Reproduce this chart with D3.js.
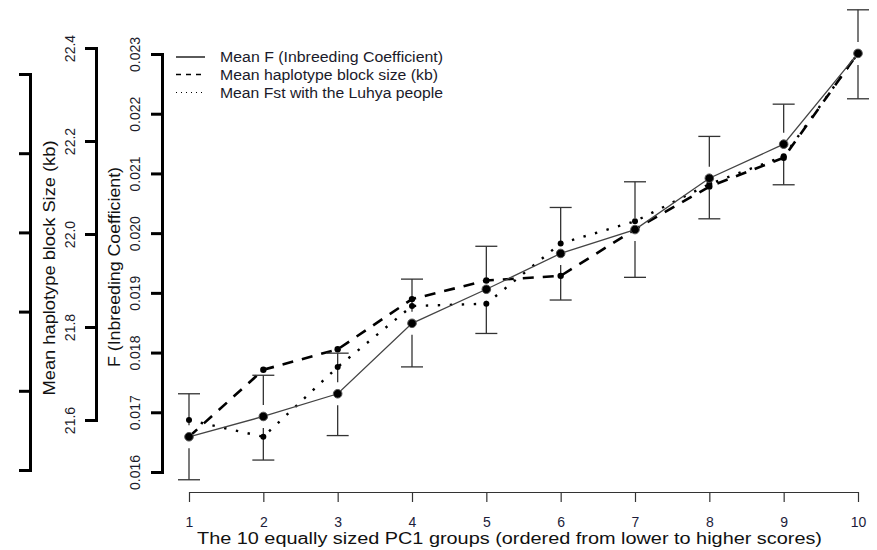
<!DOCTYPE html>
<html>
<head>
<meta charset="utf-8">
<script src="https://cdn.jsdelivr.net/npm/d3@7"></script>
<style>
body { margin: 0; background: #fff; }
svg { display: block; font-family: "Liberation Sans", Arial, sans-serif; }
</style>
</head>
<body>
<script>
var width = 877,
    height = 550;

// values
var groups = [1, 2, 3, 4, 5, 6, 7, 8, 9, 10];
var meanF = [0.01659, 0.01693, 0.01731, 0.01849, 0.01906, 0.01966, 0.02006, 0.02092, 0.02149, 0.02301];
var fUpper = [0.01731, 0.01762, 0.01799, 0.01923, 0.01978, 0.02043, 0.02086, 0.02162, 0.02216, 0.02374];
var fLower = [0.01587, 0.01620, 0.01661, 0.01776, 0.01832, 0.01888, 0.01926, 0.02024, 0.02081, 0.02225];
var hapSize = [21.564, 21.708, 21.752, 21.860, 21.900, 21.910, 22.010, 22.102, 22.164, 22.389];
var fst = [0.01063, 0.01042, 0.01130, 0.01207, 0.01210, 0.01286, 0.01314, 0.01361, 0.01396, 0.01526];

var fTicks = [0.016, 0.017, 0.018, 0.019, 0.020, 0.021, 0.022, 0.023];
var hapTicks = [21.6, 21.8, 22.0, 22.2, 22.4];
var fstTicks = [0.010, 0.011, 0.012, 0.013, 0.014, 0.015];

var legendLabels = ["Mean F (Inbreeding Coefficient)",
                    "Mean haplotype block size (kb)",
                    "Mean Fst with the Luhya people"];

var x = d3.scaleLinear().domain([1, 10]).range([189, 858]);
var yF = d3.scaleLinear().domain([0.016, 0.023]).range([472, 54]);
var yHap = d3.scaleLinear().domain([21.6, 22.4]).range([420, 48]);
var yFst = d3.scaleLinear().domain([0.010, 0.015]).range([470, 74]);

var svg = d3.select("body").append("svg")
    .attr("width", width)
    .attr("height", height);

svg.append("rect")
    .attr("width", width)
    .attr("height", height)
    .attr("fill", "#fff");

// left axes (thick, R style)
function leftAxis(scale, ticks, xpos, fmt, labelOffset) {
    var g = svg.append("g")
        .attr("transform", "translate(" + xpos + ",0)")
        .call(d3.axisLeft(scale).tickValues(ticks).tickSize(11).tickSizeOuter(0).tickFormat(fmt));
    g.select(".domain").attr("stroke", "#000").attr("stroke-width", 3).attr("stroke-linecap", "square");
    g.selectAll(".tick line").attr("stroke", "#000").attr("stroke-width", 3);
    g.selectAll(".tick text")
        .attr("x", null)
        .attr("dy", null)
        .attr("fill", "#1c1c2a")
        .style("font-size", "14px")
        .attr("text-anchor", "middle")
        .attr("transform", "translate(" + (-labelOffset) + ",0) rotate(-90)");
    return g;
}

leftAxis(yFst, fstTicks, 30, function() { return ""; }, 0);
leftAxis(yHap, hapTicks, 96, d3.format(".1f"), 21);
leftAxis(yF, fTicks, 162, d3.format(".3f"), 22);

// axis titles
svg.append("text")
    .attr("transform", "translate(55,268) rotate(-90)")
    .attr("text-anchor", "middle")
    .attr("textLength", 255)
    .attr("lengthAdjust", "spacingAndGlyphs")
    .style("font-size", "17px")
    .attr("fill", "#111")
    .text("Mean haplotype block Size (kb)");

svg.append("text")
    .attr("transform", "translate(120,267) rotate(-90)")
    .attr("text-anchor", "middle")
    .attr("textLength", 200)
    .attr("lengthAdjust", "spacingAndGlyphs")
    .style("font-size", "17px")
    .attr("fill", "#111")
    .text("F (Inbreeding Coefficient)");

// x axis
var xg = svg.append("g")
    .attr("transform", "translate(0,492)")
    .call(d3.axisBottom(x).tickValues(groups).tickSize(10).tickSizeOuter(0).tickFormat(d3.format("d")));
xg.select(".domain").attr("stroke", "#333").attr("stroke-width", 1.2);
xg.selectAll(".tick line").attr("stroke", "#333").attr("stroke-width", 1.2);
xg.selectAll(".tick text")
    .attr("y", 35)
    .attr("dy", null)
    .attr("fill", "#1c1c3a")
    .style("font-size", "14px");

svg.append("text")
    .attr("x", 509.5)
    .attr("y", 544)
    .attr("text-anchor", "middle")
    .attr("textLength", 625)
    .attr("lengthAdjust", "spacingAndGlyphs")
    .style("font-size", "16px")
    .attr("fill", "#111")
    .text("The 10 equally sized PC1 groups (ordered from lower to higher scores)");

// lines
var lineFst = d3.line().x(function(d, i) { return x(groups[i]); }).y(function(d) { return yFst(d); });
var lineHap = d3.line().x(function(d, i) { return x(groups[i]); }).y(function(d) { return yHap(d); });
var lineF = d3.line().x(function(d, i) { return x(groups[i]); }).y(function(d) { return yF(d); });

svg.append("path")
    .datum(fst)
    .attr("d", lineFst)
    .attr("fill", "none")
    .attr("stroke", "#000")
    .attr("stroke-width", 2.4)
    .attr("stroke-dasharray", "2.4,9.6");

svg.append("path")
    .datum(hapSize)
    .attr("d", lineHap)
    .attr("fill", "none")
    .attr("stroke", "#000")
    .attr("stroke-width", 2.6)
    .attr("stroke-dasharray", "11,9");

svg.append("path")
    .datum(meanF)
    .attr("d", lineF)
    .attr("fill", "none")
    .attr("stroke", "#444")
    .attr("stroke-width", 1.3);

// error bars with a gap round the point
var gap = 11.5, cap = 11;
var bars = svg.append("g").attr("stroke", "#333").attr("stroke-width", 1.3);
groups.forEach(function(g, i) {
    var cx = x(g), cy = yF(meanF[i]), top = yF(fUpper[i]), bot = yF(fLower[i]);
    bars.append("line").attr("x1", cx).attr("x2", cx).attr("y1", top).attr("y2", cy - gap);
    bars.append("line").attr("x1", cx).attr("x2", cx).attr("y1", cy + gap).attr("y2", bot);
    bars.append("line").attr("x1", cx - cap).attr("x2", cx + cap).attr("y1", top).attr("y2", top);
    bars.append("line").attr("x1", cx - cap).attr("x2", cx + cap).attr("y1", bot).attr("y2", bot);
});

// points
svg.append("g").selectAll("circle")
    .data(fst).enter()
    .append("circle")
    .attr("cx", function(d, i) { return x(groups[i]); })
    .attr("cy", function(d) { return yFst(d); })
    .attr("r", 3)
    .attr("fill", "#000");

svg.append("g").selectAll("circle")
    .data(hapSize).enter()
    .append("circle")
    .attr("cx", function(d, i) { return x(groups[i]); })
    .attr("cy", function(d) { return yHap(d); })
    .attr("r", 3.2)
    .attr("fill", "#000");

svg.append("g").selectAll("circle")
    .data(meanF).enter()
    .append("circle")
    .attr("cx", function(d, i) { return x(groups[i]); })
    .attr("cy", function(d) { return yF(d); })
    .attr("r", 4.3)
    .attr("fill", "#000")
    .attr("stroke", "#555")
    .attr("stroke-width", 1);

// legend
var legendY = [57, 74.5, 92.5],
    legendLen = [223, 218, 223],
    legendDash = [null, "5,5", "1,4"],
    legendWidth = [1.3, 1.3, 1.2];

var legend = svg.append("g");
legendLabels.forEach(function(label, i) {
    legend.append("line")
        .attr("x1", 176).attr("x2", 205)
        .attr("y1", legendY[i]).attr("y2", legendY[i])
        .attr("stroke", "#000")
        .attr("stroke-width", legendWidth[i])
        .attr("stroke-dasharray", legendDash[i]);
    legend.append("text")
        .attr("x", 220)
        .attr("y", legendY[i])
        .attr("dy", "0.36em")
        .attr("textLength", legendLen[i])
        .attr("lengthAdjust", "spacingAndGlyphs")
        .style("font-size", "14px")
        .attr("fill", "#1a1a2a")
        .text(label);
});
</script>
</body>
</html>
